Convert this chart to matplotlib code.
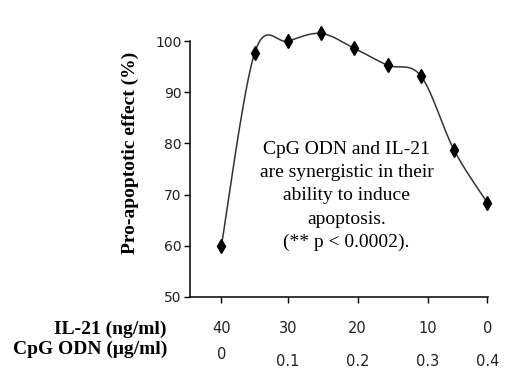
import numpy
import matplotlib
matplotlib.use('Agg')
import matplotlib.pyplot as plt

effect = [60.0, 97.7, 100.0, 101.5, 98.6, 95.3, 93.2, 78.7, 68.4]
il21_labels = ['40', '30', '20', '10', '0']
cpg_labels = ['0', '0.1', '0.2', '0.3', '0.4']
note = 'CpG ODN and IL-21\nare synergistic in their\nability to induce\napoptosis.\n(** p < 0.0002).'


def smooth(x, y, n=30):
	# Excel-style smoothed line (Catmull-Rom bezier through every point)
	x = numpy.asarray(x, float)
	y = numpy.asarray(y, float)
	px = numpy.concatenate([[x[0]], x, [x[-1]]])
	py = numpy.concatenate([[y[0]], y, [y[-1]]])
	sx, sy = [], []
	t = numpy.linspace(0, 1, n)
	for i in range(len(x) - 1):
		p0 = numpy.array([px[i + 1], py[i + 1]])
		p3 = numpy.array([px[i + 2], py[i + 2]])
		p1 = p0 + (numpy.array([px[i + 2], py[i + 2]]) - numpy.array([px[i], py[i]])) / 6
		p2 = p3 - (numpy.array([px[i + 3], py[i + 3]]) - numpy.array([px[i + 1], py[i + 1]])) / 6
		b = ((1 - t) ** 3)[:, None] * p0 + (3 * (1 - t) ** 2 * t)[:, None] * p1 \
			+ (3 * (1 - t) * t ** 2)[:, None] * p2 + (t ** 3)[:, None] * p3
		sx.extend(b[:, 0])
		sy.extend(b[:, 1])
	return sx, sy


fig = plt.figure(figsize=(5.2, 3.81), dpi=100)
ax = fig.add_axes([0.365, 0.2205, 0.5735, 0.6715])

xs = list(range(len(effect)))
cx, cy = smooth(xs, effect)
ax.plot(cx, cy, color='#333333', linewidth=1.1, clip_on=False)
ax.plot(xs, effect, linestyle='none', marker='d', markersize=7.5, color='black', clip_on=False)

ax.set_xlim(-0.95, 8.02)
ax.set_ylim(50, 100)
ax.set_yticks(range(50, 101, 10))
for side in ['top', 'right']:
	ax.spines[side].set_visible(False)
ax.spines['left'].set_linewidth(1.1)
ax.spines['bottom'].set_linewidth(1.1)
ax.tick_params(axis='y', direction='out', length=4, width=1, pad=2, labelsize=10, labelcolor='#222222')

tick_pos = [0, 2, 4.1, 6.2, 8]
ax.set_xticks(tick_pos)
ax.set_xticklabels([])
ax.tick_params(axis='x', direction='out', length=4, width=1)

trans = ax.get_xaxis_transform()
for pos, a, b in zip(tick_pos, il21_labels, cpg_labels):
	ax.text(pos, -0.125, a, transform=trans, ha='center', va='center', fontsize=10.5, color='#222222')
	ax.text(pos, -0.223 if b == '0' else -0.254, b, transform=trans, ha='center', va='center',
		fontsize=10.5, color='#222222')

ax.text(3.76, 69.7, note, ha='center', va='center', multialignment='center',
	fontsize=14, family='Liberation Serif', linespacing=1.47)

fig.text(0.25, 0.598, 'Pro-apoptotic effect (%)', rotation=90, ha='center', va='center',
	fontsize=14, family='Liberation Serif', weight='bold')
fig.text(0.321, 0.1365, 'IL-21 (ng/ml)', ha='right', va='center',
	fontsize=14, family='Liberation Serif', weight='bold')
fig.text(0.321, 0.0827, 'CpG ODN (\u03bcg/ml)', ha='right', va='center',
	fontsize=14, family='Liberation Serif', weight='bold')

fig.savefig('out.png', dpi=100)
